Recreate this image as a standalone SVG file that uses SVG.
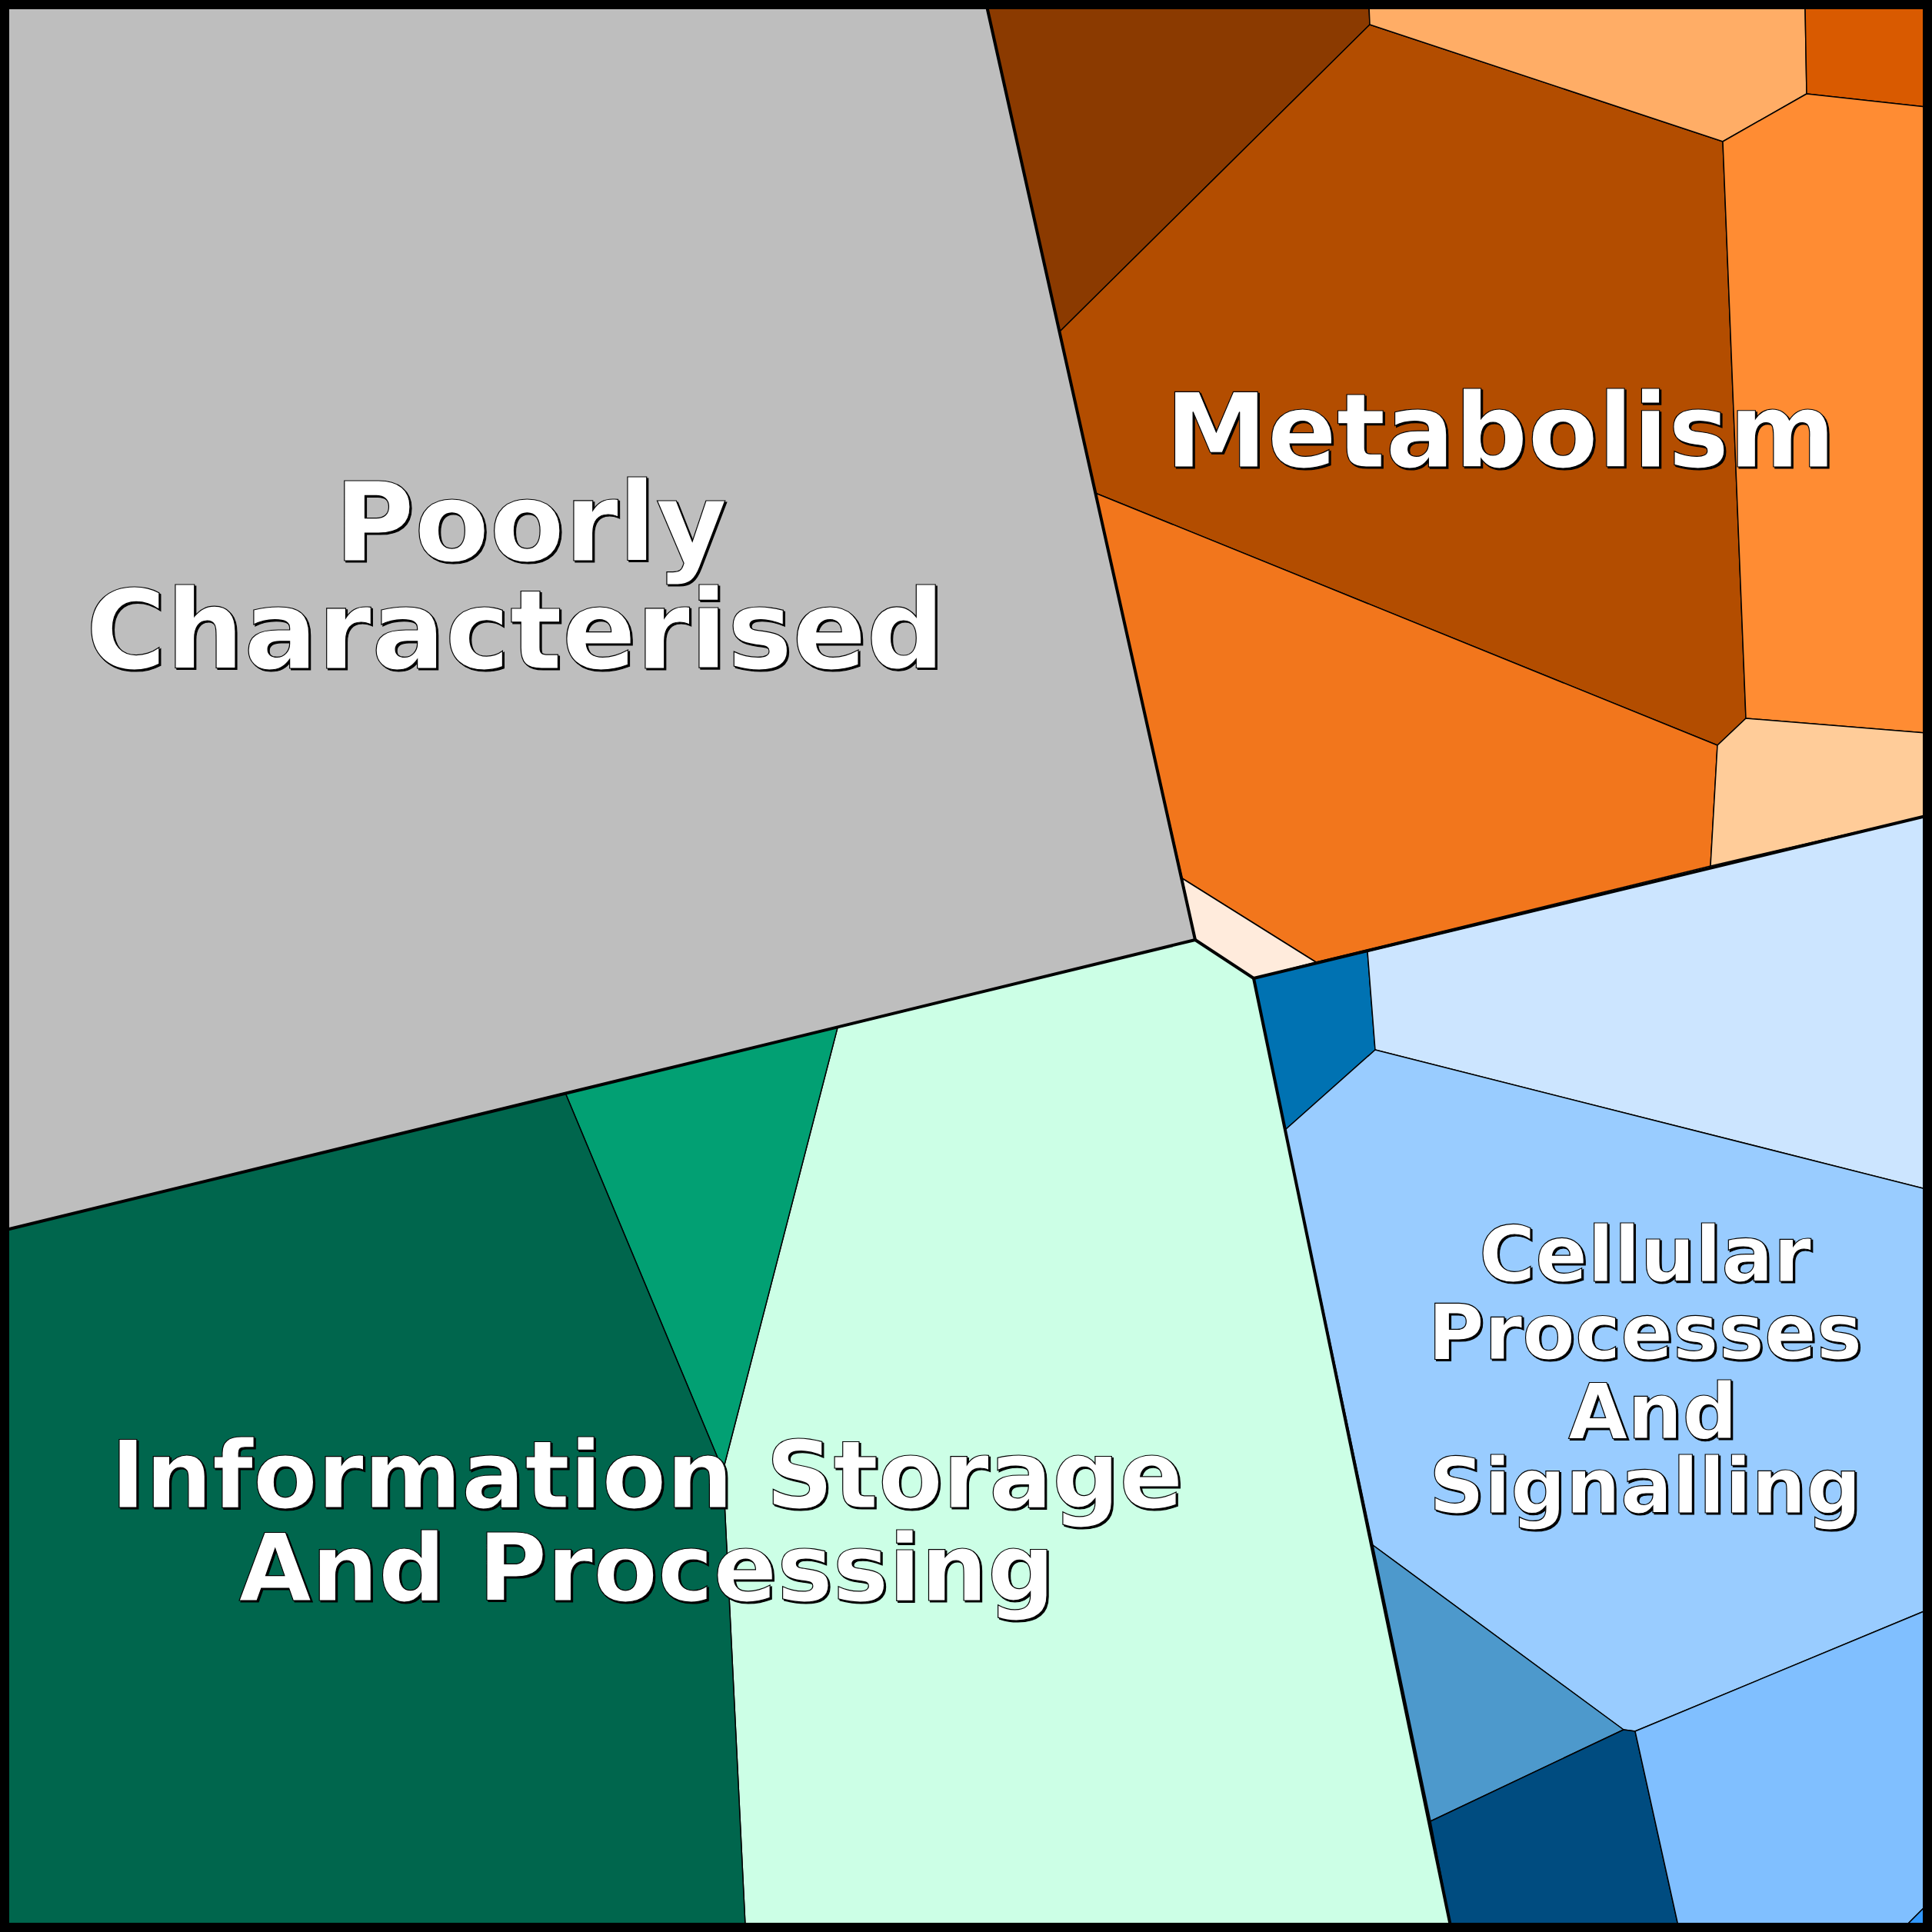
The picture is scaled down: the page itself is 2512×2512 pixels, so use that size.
<svg xmlns="http://www.w3.org/2000/svg" width="2512" height="2512" viewBox="0 0 2512 2512">
<style>
.t{stroke:#000;stroke-width:1.5;stroke-linejoin:round}
.k{fill:none;stroke:#000;stroke-width:4;stroke-linejoin:round}
.lb{font-family:"DejaVu Sans",sans-serif;font-weight:bold;fill:#fff;stroke:#000;stroke-width:1.2;text-anchor:middle;filter:url(#sh)}
</style>
<defs><filter id="sh" x="-10%" y="-10%" width="120%" height="130%"><feDropShadow dx="2" dy="2" stdDeviation="0.3" flood-color="#000"/></filter></defs>
<g id="poorly"><polygon class="t" fill="#bebebe" points="8,8 1283,8 1554,1222 8,1599"/></g>
<g id="metabolism">
<polygon class="t" fill="#8b3a00" points="1283,8 1780,8 1781,32 1378,431"/>
<polygon class="t" fill="#b34d00" points="1378,431 1781,32 2240,184 2270,934 2233,969 1424,641"/>
<polygon class="t" fill="#ffad66" points="1780,8 2347,8 2349,122 2240,184 1781,32"/>
<polygon class="t" fill="#d95a00" points="2347,8 2504,8 2504,139 2349,122"/>
<polygon class="t" fill="#ff8c33" points="2349,122 2504,139 2504,953 2270,934 2240,184"/>
<polygon class="t" fill="#f2761c" points="1424,641 2233,969 2224,1126 1711,1251 1537,1142"/>
<polygon class="t" fill="#ffcc99" points="2270,934 2504,953 2504,1061 2224,1126 2233,969"/>
<polygon class="t" fill="#ffebdc" points="1537,1142 1711,1251 1630,1272 1554,1222"/>
</g>
<g id="cellular">
<polygon class="t" fill="#0072b2" points="1630,1272 1778,1237 1788,1365 1671,1469"/>
<polygon class="t" fill="#cce5ff" points="1778,1237 2504,1061 2504,1546 1788,1365"/>
<polygon class="t" fill="#99ccff" points="1788,1365 2504,1546 2504,2094 2126,2251 2111,2249 1785,2009 1671,1469"/>
<polygon class="t" fill="#4d99cc" points="1785,2009 2111,2249 1860,2368"/>
<polygon class="t" fill="#004c80" points="1860,2368 2111,2249 2126,2251 2182,2504 1886,2504"/>
<polygon class="t" fill="#80bfff" points="2126,2251 2504,2094 2504,2478 2478,2504 2182,2504"/>
<polygon class="t" fill="#3399ff" points="2478,2504 2504,2478 2504,2504"/>
</g>
<g id="information">
<polygon class="t" fill="#ccffe6" points="1554,1222 1630,1272 1886,2504 969,2504 940,1912 1089,1336"/>
<polygon class="t" fill="#02a073" points="735,1421 1089,1336 940,1912"/>
<polygon class="t" fill="#00664d" points="8,1599 735,1421 940,1912 969,2504 8,2504"/>
</g>
<g id="connectors">
<polyline class="k" points="1283,8 1554,1222 8,1599"/>
<polyline class="k" points="1554,1222 1630,1272 2504,1061"/>
<polyline class="k" points="1630,1272 1886,2504"/>
</g>
<rect x="6" y="6" width="2500" height="2500" fill="none" stroke="#000" stroke-width="12"/>
<g id="labels">
<text class="lb" font-size="142" x="690" y="729">Poorly</text>
<text class="lb" font-size="142" x="670" y="869">Characterised</text>
<text class="lb" font-size="133" x="1951" y="607">Metabolism</text>
<text class="lb" font-size="100" x="2139" y="1666">Cellular</text>
<text class="lb" font-size="100" x="2139" y="1767">Processes</text>
<text class="lb" font-size="100" x="2149" y="1870">And</text>
<text class="lb" font-size="100" x="2139" y="1967">Signalling</text>
<text class="lb" font-size="122" x="841" y="1960">Information Storage</text>
<text class="lb" font-size="122" x="841" y="2081">And Processing</text>
</g>
</svg>
